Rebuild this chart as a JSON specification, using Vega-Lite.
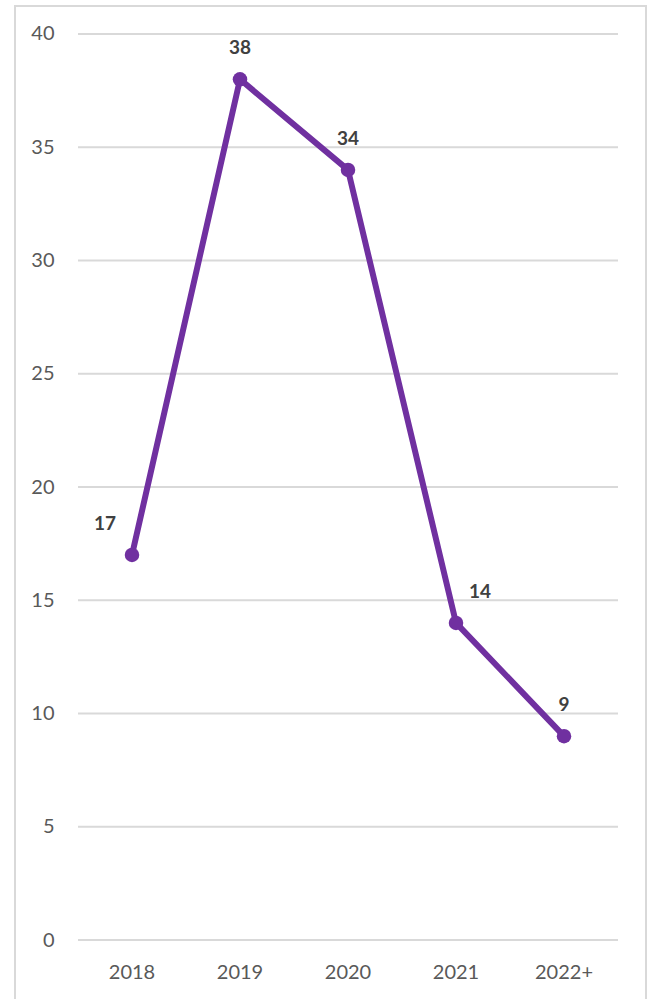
{
  "$schema": "https://vega.github.io/schema/vega-lite/v6.json",
  "width": 631,
  "height": 1000,
  "autosize": {"type": "none"},
  "padding": {"left": 15, "top": 6, "right": 4, "bottom": 0},
  "background": "#ffffff",
  "config": {
    "view": {"stroke": "#d9d9d9", "strokeWidth": 2, "fill": "#ffffff"},
    "font": "Lato"
  },
  "datasets": {
    "counts": [
      {"year": "2018", "count": 17},
      {"year": "2019", "count": 38},
      {"year": "2020", "count": 34},
      {"year": "2021", "count": 14},
      {"year": "2022+", "count": 9}
    ],
    "gridlines": [
      {"tick": 0}, {"tick": 5}, {"tick": 10}, {"tick": 15}, {"tick": 20},
      {"tick": 25}, {"tick": 30}, {"tick": 35}, {"tick": 40}
    ]
  },
  "encoding": {
    "x": {
      "field": "year",
      "type": "nominal",
      "sort": null,
      "scale": {
        "type": "band",
        "domain": ["2018", "2019", "2020", "2021", "2022+"],
        "paddingInner": 0,
        "paddingOuter": 0.4213,
        "align": 0.6923
      },
      "axis": {
        "title": null,
        "orient": "bottom",
        "offset": -44,
        "domain": false,
        "ticks": false,
        "tickSize": 0,
        "labelPadding": 0,
        "labelAngle": 0,
        "labelFontSize": 20,
        "labelColor": "#595959",
        "labelFont": "Lato",
        "grid": false
      }
    },
    "y": {
      "field": "count",
      "type": "quantitative",
      "scale": {"domain": [-2.9139, 41.2362], "nice": false, "zero": false},
      "axis": {
        "title": null,
        "orient": "left",
        "offset": -39,
        "values": [0, 5, 10, 15, 20, 25, 30, 35, 40],
        "domain": false,
        "ticks": false,
        "tickSize": 0,
        "labelPadding": 0,
        "labelFontSize": 20,
        "labelColor": "#595959",
        "labelFont": "Lato",
        "labelBaseline": "middle",
        "grid": false
      }
    }
  },
  "layer": [
    {
      "data": {"name": "gridlines"},
      "mark": {"type": "rule", "stroke": "#d9d9d9", "strokeWidth": 2},
      "encoding": {
        "x": {"datum": "2018", "bandPosition": 0},
        "x2": {"datum": "2022+", "bandPosition": 1},
        "y": {"field": "tick", "type": "quantitative"}
      }
    },
    {
      "data": {"name": "counts"},
      "mark": {"type": "line", "color": "#7030a0", "strokeWidth": 6, "strokeJoin": "round"},
      "encoding": {}
    },
    {
      "data": {"name": "counts"},
      "mark": {"type": "circle", "color": "#7030a0", "opacity": 1, "size": 210},
      "encoding": {}
    },
    {
      "data": {"name": "counts"},
      "transform": [{"filter": "datum.year !== '2018' && datum.year !== '2021'"}],
      "mark": {"type": "text", "fontWeight": "bold", "fontSize": 19, "color": "#404040", "dy": -31, "font": "Lato"},
      "encoding": {"text": {"field": "count", "type": "quantitative"}}
    },
    {
      "data": {"name": "counts"},
      "transform": [{"filter": "datum.year === '2018'"}],
      "mark": {"type": "text", "fontWeight": "bold", "fontSize": 19, "color": "#404040", "dx": -27, "dy": -31, "font": "Lato"},
      "encoding": {"text": {"field": "count", "type": "quantitative"}}
    },
    {
      "data": {"name": "counts"},
      "transform": [{"filter": "datum.year === '2021'"}],
      "mark": {"type": "text", "fontWeight": "bold", "fontSize": 19, "color": "#404040", "dx": 24, "dy": -31, "font": "Lato"},
      "encoding": {"text": {"field": "count", "type": "quantitative"}}
    }
  ]
}
